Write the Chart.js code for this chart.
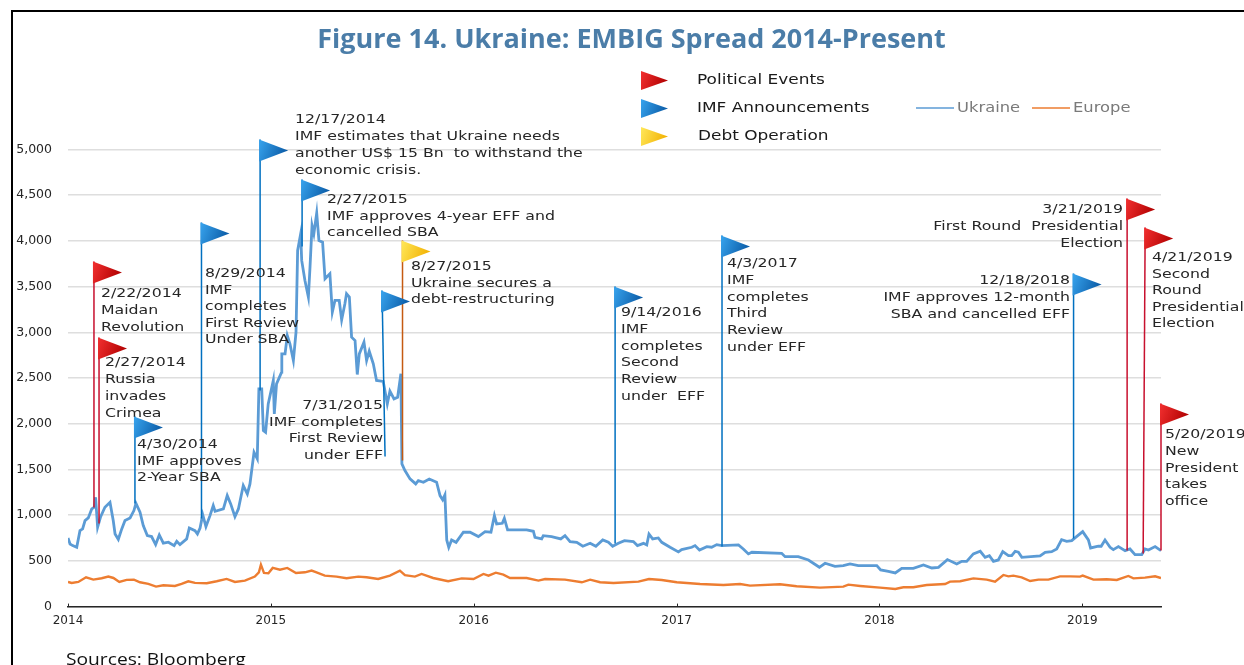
<!DOCTYPE html>
<html><head><meta charset="utf-8">
<style>html,body{margin:0;padding:0;background:#fff;overflow:hidden}
#wrap{position:relative;width:1244px;height:665px}canvas{display:block}</style>
<script src="https://cdn.jsdelivr.net/npm/chart.js@4"></script></head>
<body><div id="wrap"><canvas id="c" width="1244" height="665"></canvas></div>
<script>
const yTicks=[0,500,1000,1500,2000,2500,3000,3500,4000,4500,5000];
const xYears=[2014,2015,2016,2017,2018,2019];
const ukraineDates=[2014.00,2014.010,2014.023,2014.043,2014.059,2014.072,2014.084,2014.100,2014.117,2014.130,2014.136,2014.146,2014.161,2014.182,2014.207,2014.223,2014.232,2014.248,2014.265,2014.281,2014.306,2014.325,2014.335,2014.355,2014.371,2014.391,2014.412,2014.432,2014.450,2014.470,2014.495,2014.523,2014.536,2014.552,2014.585,2014.598,2014.626,2014.638,2014.651,2014.664,2014.680,2014.700,2014.716,2014.725,2014.766,2014.785,2014.802,2014.823,2014.840,2014.864,2014.884,2014.897,2014.917,2014.933,2014.941,2014.955,2014.963,2014.974,2014.987,2015.012,2015.017,2015.028,2015.053,2015.054,2015.070,2015.081,2015.094,2015.111,2015.124,2015.132,2015.147,2015.152,2015.168,2015.185,2015.193,2015.203,2015.212,2015.226,2015.237,2015.255,2015.267,2015.291,2015.303,2015.316,2015.337,2015.349,2015.365,2015.373,2015.387,2015.398,2015.415,2015.426,2015.436,2015.459,2015.472,2015.485,2015.505,2015.521,2015.554,2015.574,2015.587,2015.607,2015.625,2015.641,2015.646,2015.661,2015.686,2015.714,2015.727,2015.752,2015.781,2015.817,2015.834,2015.847,2015.858,2015.867,2015.877,2015.891,2015.913,2015.949,2015.982,2016.023,2016.056,2016.085,2016.102,2016.113,2016.141,2016.151,2016.167,2016.261,2016.294,2016.302,2016.335,2016.343,2016.384,2016.429,2016.450,2016.475,2016.508,2016.538,2016.574,2016.602,2016.636,2016.664,2016.685,2016.713,2016.743,2016.787,2016.807,2016.837,2016.853,2016.864,2016.882,2016.910,2016.927,2016.968,2017.009,2017.025,2017.075,2017.091,2017.113,2017.149,2017.173,2017.198,2017.223,2017.305,2017.329,2017.354,2017.371,2017.518,2017.535,2017.600,2017.650,2017.704,2017.732,2017.781,2017.822,2017.855,2017.896,2017.987,2018.006,2018.044,2018.078,2018.110,2018.167,2018.217,2018.258,2018.291,2018.335,2018.381,2018.406,2018.430,2018.463,2018.497,2018.521,2018.542,2018.562,2018.586,2018.608,2018.636,2018.652,2018.669,2018.685,2018.702,2018.792,2018.817,2018.849,2018.874,2018.898,2018.923,2018.948,2018.964,2019.002,2019.030,2019.041,2019.079,2019.093,2019.112,2019.137,2019.153,2019.178,2019.211,2019.235,2019.260,2019.293,2019.309,2019.326,2019.359,2019.388];
const ukraineValues=[751,685,667,649,831,850,941,970,1068,1087,1196,868,984,1087,1141,941,795,736,850,941,970,1050,1130,1032,886,777,766,678,784,693,704,667,715,678,740,860,831,795,860,1006,875,995,1105,1043,1068,1214,1123,984,1068,1324,1232,1342,1688,1616,2381,2381,1926,1907,2217,2473,2108,2436,2564,2764,2764,2965,2874,2691,3001,3895,4077,3786,3567,3384,3713,4168,4077,4303,4004,3986,3585,3640,3220,3348,3348,3136,3311,3421,3384,2947,2910,2538,2764,2892,2691,2793,2655,2473,2462,2217,2356,2272,2290,2546,1561,1488,1397,1342,1378,1360,1396,1360,1214,1167,1221,729,649,729,703,813,813,766,820,813,995,904,911,966,838,838,824,758,740,776,766,740,776,711,703,660,692,660,729,703,660,692,721,711,667,692,674,794,740,751,703,649,598,623,649,667,619,656,649,678,667,674,630,576,594,583,546,546,510,430,474,441,448,466,448,448,401,386,368,419,419,455,422,430,514,466,495,495,576,605,539,557,495,510,601,557,557,605,594,539,554,594,601,630,732,714,721,751,820,729,641,660,660,729,649,623,656,612,630,568,568,630,619,656,612];
const europeDates=[2014.00,2014.018,2014.051,2014.089,2014.125,2014.166,2014.199,2014.224,2014.253,2014.289,2014.325,2014.355,2014.396,2014.434,2014.470,2014.527,2014.560,2014.593,2014.626,2014.684,2014.733,2014.782,2014.823,2014.872,2014.921,2014.941,2014.951,2014.966,2014.988,2015.009,2015.045,2015.081,2015.124,2015.168,2015.201,2015.225,2015.266,2015.324,2015.373,2015.431,2015.472,2015.529,2015.587,2015.636,2015.661,2015.710,2015.743,2015.800,2015.874,2015.941,2015.999,2016.048,2016.073,2016.109,2016.146,2016.179,2016.261,2016.319,2016.352,2016.450,2016.533,2016.574,2016.623,2016.689,2016.812,2016.864,2016.927,2017.001,2017.116,2017.231,2017.313,2017.362,2017.510,2017.592,2017.707,2017.822,2017.847,2017.905,2018.003,2018.078,2018.118,2018.167,2018.233,2018.324,2018.348,2018.398,2018.463,2018.529,2018.570,2018.611,2018.636,2018.660,2018.701,2018.743,2018.784,2018.833,2018.890,2018.940,2018.989,2019.002,2019.055,2019.120,2019.170,2019.227,2019.252,2019.309,2019.359,2019.388];
const europeValues=[270,259,270,321,295,310,328,313,270,292,295,266,248,219,233,226,248,277,259,255,277,303,270,284,328,375,459,368,364,423,404,423,368,375,394,375,339,328,310,328,321,302,339,394,343,328,357,313,277,309,302,357,339,371,350,313,313,284,302,295,266,295,266,258,273,302,291,266,247,236,247,229,244,222,207,218,240,226,207,193,211,211,236,247,273,277,309,295,273,346,331,339,320,280,295,295,331,331,328,339,295,299,291,335,309,317,331,313];
const eventDates=["2/22/2014","2/27/2014","4/30/2014","8/29/2014","12/17/2014","2/27/2015","7/31/2015","8/27/2015","9/14/2016","4/3/2017","12/18/2018","3/21/2019","4/21/2019","5/20/2019"];
const eventTypes=["political","political","imf","imf","imf","imf","imf","debt","imf","imf","imf","political","political","political"];
const poleTopDates=[2014.128,2014.153,2014.330,2014.658,2014.947,2015.154,2015.548,2015.649,2016.697,2017.224,2018.957,2019.221,2019.310,2019.388];
const poleBaseDates=[2014.128,2014.153,2014.330,2014.658,2014.947,2015.154,2015.563,2015.649,2016.697,2017.224,2018.957,2019.221,2019.300,2019.388];
const poleTopValues=[3774,2943,2079,4201,5109,4671,3457,4004,3501,4059,3643,4464,4146,2221];
const poleBaseValues=[1083,908,1127,963,2363,3938,1641,1597,689,656,744,613,580,613];
const eventTexts=[
["Maidan","Revolution"],["Russia","invades","Crimea"],["IMF approves","2-Year SBA"],
["IMF","completes","First Review","Under SBA"],
["IMF estimates that Ukraine needs","another US$ 15 Bn  to withstand the","economic crisis."],
["IMF approves 4-year EFF and","cancelled SBA"],["IMF completes","First Review","under EFF"],
["Ukraine secures a","debt-restructuring"],["IMF","completes","Second","Review","under  EFF"],
["IMF","completes","Third","Review","under EFF"],["IMF approves 12-month","SBA and cancelled EFF"],
["First Round  Presidential","Election"],["Second","Round","Presidential","Election"],["New","President","takes","office"]];

const FONT='"DejaVu Sans"';
const SX=1.21;
// layout of the callouts: anchor x, baseline of each line start, line step, alignment
const textLayout=[[101,297,17,'left'],[105,366,17,'left'],[137,448,16.5,'left'],[205,277,16.6,'left'],[295,123,17,'left'],[327,203,16.5,'left'],[383,409,16.6,'right'],[411,270,16.5,'left'],[621,316,16.8,'left'],[727,267,16.8,'left'],[1070,284,17,'right'],[1123,213,17,'right'],[1152,261,16.6,'left'],[1165,438,16.8,'left']];
const flagColors={political:['#f23030','#b00000','#c8102e'],imf:['#38a4ee','#0a5aa5','#0070c0'],debt:['#ffe85a','#f2b000','#c55a11']};
const FW=29,FH=22;

function txt(ctx,s,x,y,align,size,color,sx,font){
  ctx.save();ctx.translate(x,y);ctx.scale(sx||SX,1);
  ctx.font=size+'px '+(font||FONT);ctx.fillStyle=color;ctx.textAlign=align;ctx.textBaseline='alphabetic';
  ctx.fillText(s,0,0);ctx.restore();
}
function flag(ctx,x,y,kind,w,h){
  const c=flagColors[kind];
  const g=ctx.createLinearGradient(x,y,x+w,y+h/2);g.addColorStop(0,c[0]);g.addColorStop(1,c[1]);
  ctx.beginPath();ctx.moveTo(x,y);ctx.lineTo(x+w,y+h/2);ctx.lineTo(x,y+h);ctx.closePath();ctx.fillStyle=g;ctx.fill();
}
const decor={id:'decor',
  afterLayout(chart){const t=chart.titleBlock;if(t){t.left=7;t.right=1256;}},
  afterDraw(chart){
    const ctx=chart.ctx,xs=chart.scales.x,ys=chart.scales.y;
    ctx.fillStyle='#000';ctx.fillRect(11,10,1233,2);ctx.fillRect(11,10,2,655);
    ctx.strokeStyle='#262626';ctx.lineWidth=1;
    xYears.forEach(v=>{const p=Math.round(xs.getPixelForValue(v))+.5;ctx.beginPath();ctx.moveTo(p,ys.bottom);ctx.lineTo(p,ys.bottom-3);ctx.stroke();});
    eventDates.forEach((d,i)=>{
      const x=xs.getPixelForValue(poleTopDates[i]),y=ys.getPixelForValue(poleTopValues[i]);
      flag(ctx,x-1,y,eventTypes[i],FW,FH);
      const L=textLayout[i];
      [d].concat(eventTexts[i]).forEach((s,k)=>txt(ctx,s,L[0],L[1]+k*L[2],L[3],13,'#262626'));
    });
    [['political','Political Events',697,84,71],['imf','IMF Announcements',697,112,99],['debt','Debt Operation',698,140,127]].forEach(a=>{
      flag(ctx,641,a[4],a[0],27,19);txt(ctx,a[1],a[2],a[3],'left',14,'#1a1a1a');});
    [['Ukraine','#5b9bd5',916,954,957],['Europe','#ed7d31',1032,1070,1073]].forEach(a=>{
      ctx.strokeStyle=a[1];ctx.lineWidth=1.5;ctx.beginPath();ctx.moveTo(a[2],108);ctx.lineTo(a[3],108);ctx.stroke();
      txt(ctx,a[0],a[4],112,'left',13.5,'#7a7a7a');});
    txt(ctx,'Sources: Bloomberg',66,665,'left',16,'#111',1.2,'"Open Sans"');
  }};
const toXY=(xs,ys)=>xs.map((x,i)=>({x,y:ys[i]}));
const poleSets=eventDates.map((d,i)=>({label:d,data:[{x:poleTopDates[i],y:poleTopValues[i]},{x:poleBaseDates[i],y:poleBaseValues[i]}],
  borderColor:flagColors[eventTypes[i]][2],borderWidth:1.5,pointRadius:0,clip:false,order:0}));
new Chart(document.getElementById('c'),{type:'line',
 data:{datasets:[
  {label:'Ukraine',data:toXY(ukraineDates,ukraineValues),borderColor:'#5b9bd5',borderWidth:2.8,pointRadius:0,tension:0,order:2},
  {label:'Europe',data:toXY(europeDates,europeValues),borderColor:'#ed7d31',borderWidth:2.4,pointRadius:0,tension:0,order:3}
 ].concat(poleSets)},
 plugins:[decor],
 options:{responsive:false,animation:false,
  layout:{padding:{left:0,right:83,top:0,bottom:30}},
  plugins:{legend:{display:false},tooltip:{enabled:false},
   title:{display:true,text:'Figure 14. Ukraine: EMBIG Spread 2014-Present',color:'#4b7da8',font:{family:'"Open Sans"',weight:'bold',size:27},padding:{top:24,bottom:93}}},
  scales:{
   x:{type:'linear',min:2014,max:2019.388,afterBuildTicks(a){a.ticks=xYears.map(value=>({value}));},
      ticks:{autoSkip:false,maxRotation:0,callback:v=>String(v),color:'#262626',font:{family:FONT,size:12},padding:7},
      grid:{display:false,drawTicks:false},border:{color:'#262626',width:1.5}},
   y:{min:0,max:5000,afterBuildTicks(a){a.ticks=yTicks.map(value=>({value}));},
      afterFit(a){a.width=68;},
      ticks:{callback:v=>v.toLocaleString('en-US'),color:'#262626',font:{family:FONT,size:12.5},padding:16},
      grid:{color:'#dedede',lineWidth:1.5,drawTicks:false},border:{display:false}}
  }}});
</script></body></html>
